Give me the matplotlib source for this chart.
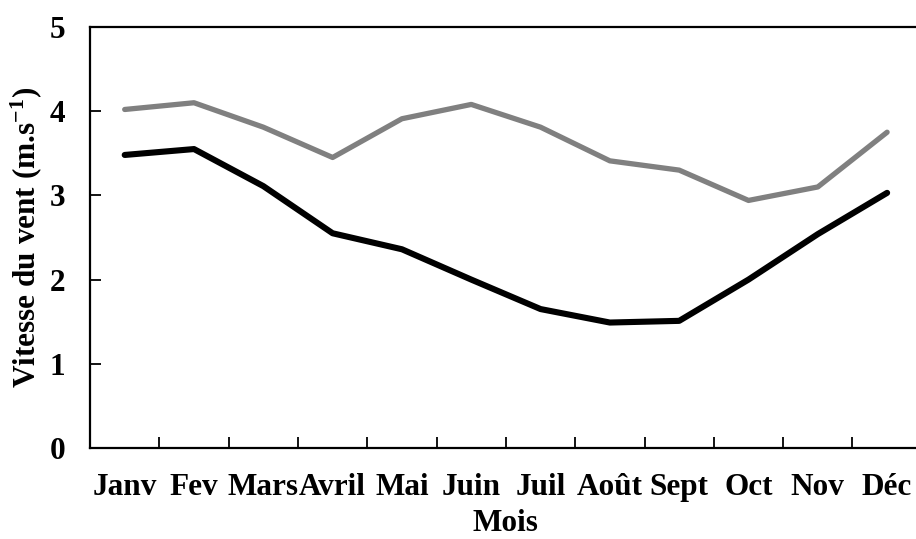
import matplotlib
matplotlib.use("Agg")
from matplotlib import pyplot as plt

mois = ["Janv", "Fev", "Mars", "Avril", "Mai", "Juin", "Juil", "Août", "Sept", "Oct", "Nov", "Déc"]
vent_gris = [4.02, 4.10, 3.81, 3.45, 3.91, 4.08, 3.81, 3.41, 3.30, 2.94, 3.10, 3.75]
vent_noir = [3.48, 3.55, 3.11, 2.55, 2.36, 2.00, 1.65, 1.49, 1.51, 2.00, 2.54, 3.03]

plt.rcParams['font.family'] = ['Liberation Serif', 'DejaVu Serif']
plt.rcParams['font.weight'] = 'bold'
plt.rcParams['mathtext.default'] = 'regular'

fs = 22.5

fig = plt.figure(figsize=(9.16, 5.39), dpi=100)
ax = fig.add_axes([0.0983, 0.1688, 0.908, 0.7812])

x = list(range(len(mois)))
ax.plot(x, vent_gris, color='#808080', lw=3.8, solid_capstyle='round', solid_joinstyle='round')
ax.plot(x, vent_noir, color='black', lw=4.4, solid_capstyle='round', solid_joinstyle='round')

ax.set_xlim(-0.5, len(mois) - 0.5)
ax.set_ylim(0, 5)
ax.set_yticks(range(6))
ax.set_xticks(x)
ax.set_xticklabels(mois, fontsize=fs, fontweight='bold')
ax.tick_params(axis='x', length=0, pad=18)
# tick marks between categories
ax.set_xticks([i + 0.5 for i in range(len(mois) - 1)], minor=True)
ax.tick_params(axis='x', which='minor', direction='in', length=8, width=1.3)
ax.tick_params(axis='y', direction='in', length=8, width=1.3, labelsize=fs, pad=18)
for lab in ax.get_yticklabels():
    lab.set_fontweight('bold')

for side in ['left', 'bottom', 'top']:
    ax.spines[side].set_linewidth(1.6)
ax.spines['right'].set_visible(False)

ax.set_xlabel("Mois", fontsize=fs, fontweight='bold', labelpad=5)
ax.set_ylabel("Vitesse du vent (m.s$^{-1}$)", fontsize=fs, fontweight='bold', labelpad=4)

fig.savefig("out.png", dpi=100)
